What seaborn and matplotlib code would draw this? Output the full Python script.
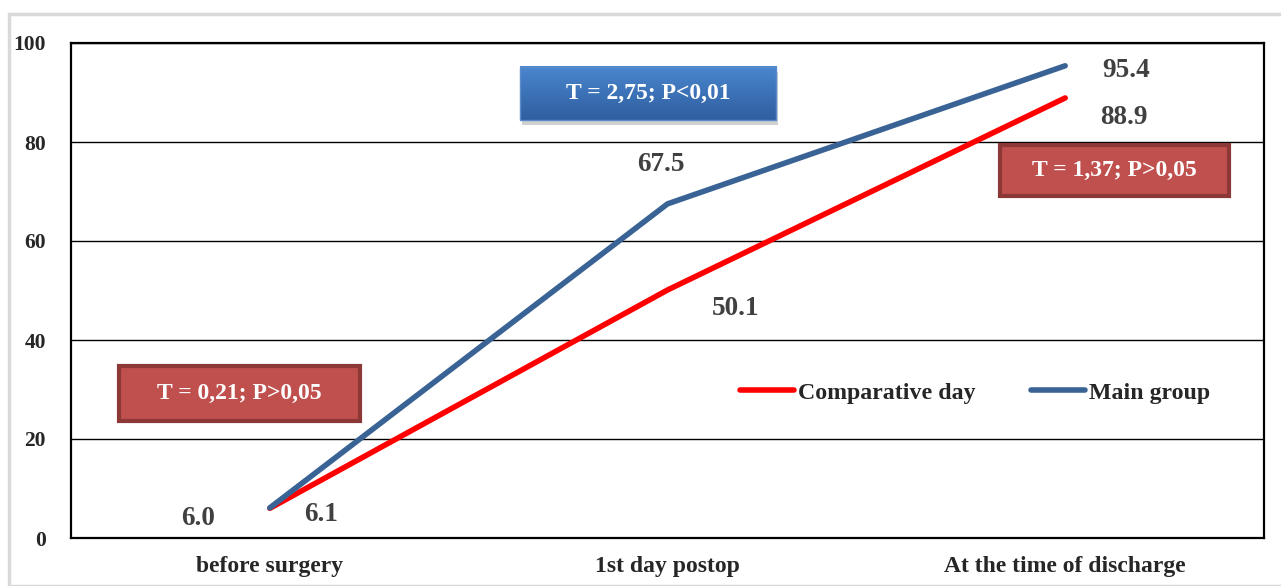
import pandas as pd
import matplotlib.pyplot as plt
import seaborn as sns
import numpy as np
from matplotlib.patches import Rectangle

# data
stages = ['before surgery', '1st day postop', 'At the time of discharge']
comparative = [6.0, 50.1, 88.9]
main_group = [6.1, 67.5, 95.4]
groups = ['Comparative day', 'Main group']
yticks = [0, 20, 40, 60, 80, 100]

df = pd.DataFrame({
    'stage': stages * 2,
    'value': comparative + main_group,
    'group': [groups[0]] * 3 + [groups[1]] * 3,
})

sns.set_style('white')
plt.rcParams['font.family'] = ['Liberation Serif', 'DejaVu Serif']
plt.rcParams['font.weight'] = 'bold'

fig = plt.figure(figsize=(12.81, 5.86), dpi=100)
ax = fig.add_axes([71 / 1281, 1 - 538 / 586, 1193 / 1281, 495 / 586])

# light gray frame around the chart
fig.patches.append(Rectangle((9 / 1281, 0), 1.1, 1 - 14 / 586, transform=fig.transFigure,
                             fill=False, edgecolor='#d9d9d9', linewidth=2.5))

sns.lineplot(data=df, x='stage', y='value', hue='group', sort=False,
             palette={groups[0]: '#ff0000', groups[1]: '#3a6395'},
             linewidth=4, ax=ax)
for ln in ax.lines:
    ln.set_solid_capstyle('round')

ax.set_xlim(-0.5, 2.5)
ax.set_ylim(0, 100)
ax.set_yticks(yticks)
ax.yaxis.grid(True, color='black', linewidth=1)
ax.set_axisbelow(True)
for s in ax.spines.values():
    s.set_color('black')
    s.set_linewidth(1.6)
ax.tick_params(length=0, labelsize=15.5)
ax.tick_params(axis='x', pad=13, labelsize=17)
ax.tick_params(axis='y', pad=18)
ax.set_xlabel('')
ax.set_ylabel('')

# value labels
lab = dict(fontsize=19.5, fontweight='bold', color='#404040', ha='center', va='center',
           textcoords='offset points')
offs_c = [(-52, -7.5), (49, -13), (42, -14)]
offs_m = [(37, -5), (-5, 28), (44, -3.5)]
for i in range(3):
    ax.annotate(f'{comparative[i]:.1f}', (i, comparative[i]), xytext=offs_c[i], **lab)
    ax.annotate(f'{main_group[i]:.1f}', (i, main_group[i]), xytext=offs_m[i], **lab)

# stat boxes
def red_box(x0, y0, w, h, txt):
    ax.add_patch(Rectangle((x0, y0), w, h, transform=ax.transAxes, facecolor='#c0504d',
                           edgecolor='#8c3836', linewidth=3, zorder=5))
    ax.text(x0 + w / 2, y0 + h / 2, txt, transform=ax.transAxes, ha='center', va='center',
            color='white', fontsize=17, fontweight='bold', zorder=6)

red_box(0.7787, 0.6909, 0.192, 0.103, 'T = 1,37; P>0,05')
red_box(0.0402, 0.2364, 0.202, 0.111, 'T = 0,21; P>0,05')

bx, by, bw, bh = 0.3764, 0.8444, 0.2146, 0.1071
ax.add_patch(Rectangle((bx + 0.002, by - 0.01), bw, bh, transform=ax.transAxes,
                       facecolor='#d0d0d0', edgecolor='none', zorder=4))
grad = np.linspace(0, 1, 64).reshape(-1, 1)
cmap = sns.blend_palette(['#2f5f9f', '#4a86cf'], as_cmap=True)
ax.imshow(grad, extent=(bx, bx + bw, by, by + bh), transform=ax.transAxes, cmap=cmap,
          aspect='auto', origin='lower', zorder=5)
ax.add_patch(Rectangle((bx, by), bw, bh, transform=ax.transAxes, fill=False,
                       edgecolor='#5b8bc9', linewidth=1, zorder=5))
ax.text(bx + bw / 2, by + bh / 2, 'T = 2,75; P<0,01', transform=ax.transAxes, ha='center',
        va='center', color='white', fontsize=17, fontweight='bold', zorder=6)
ax.set_xlim(-0.5, 2.5)
ax.set_ylim(0, 100)

ax.legend(loc='center', bbox_to_anchor=(0.758, 0.293), ncol=2, frameon=False,
          fontsize=17.2, handlelength=2.26, handletextpad=0.17, columnspacing=2.3)

fig.savefig('out.png', dpi=100)
